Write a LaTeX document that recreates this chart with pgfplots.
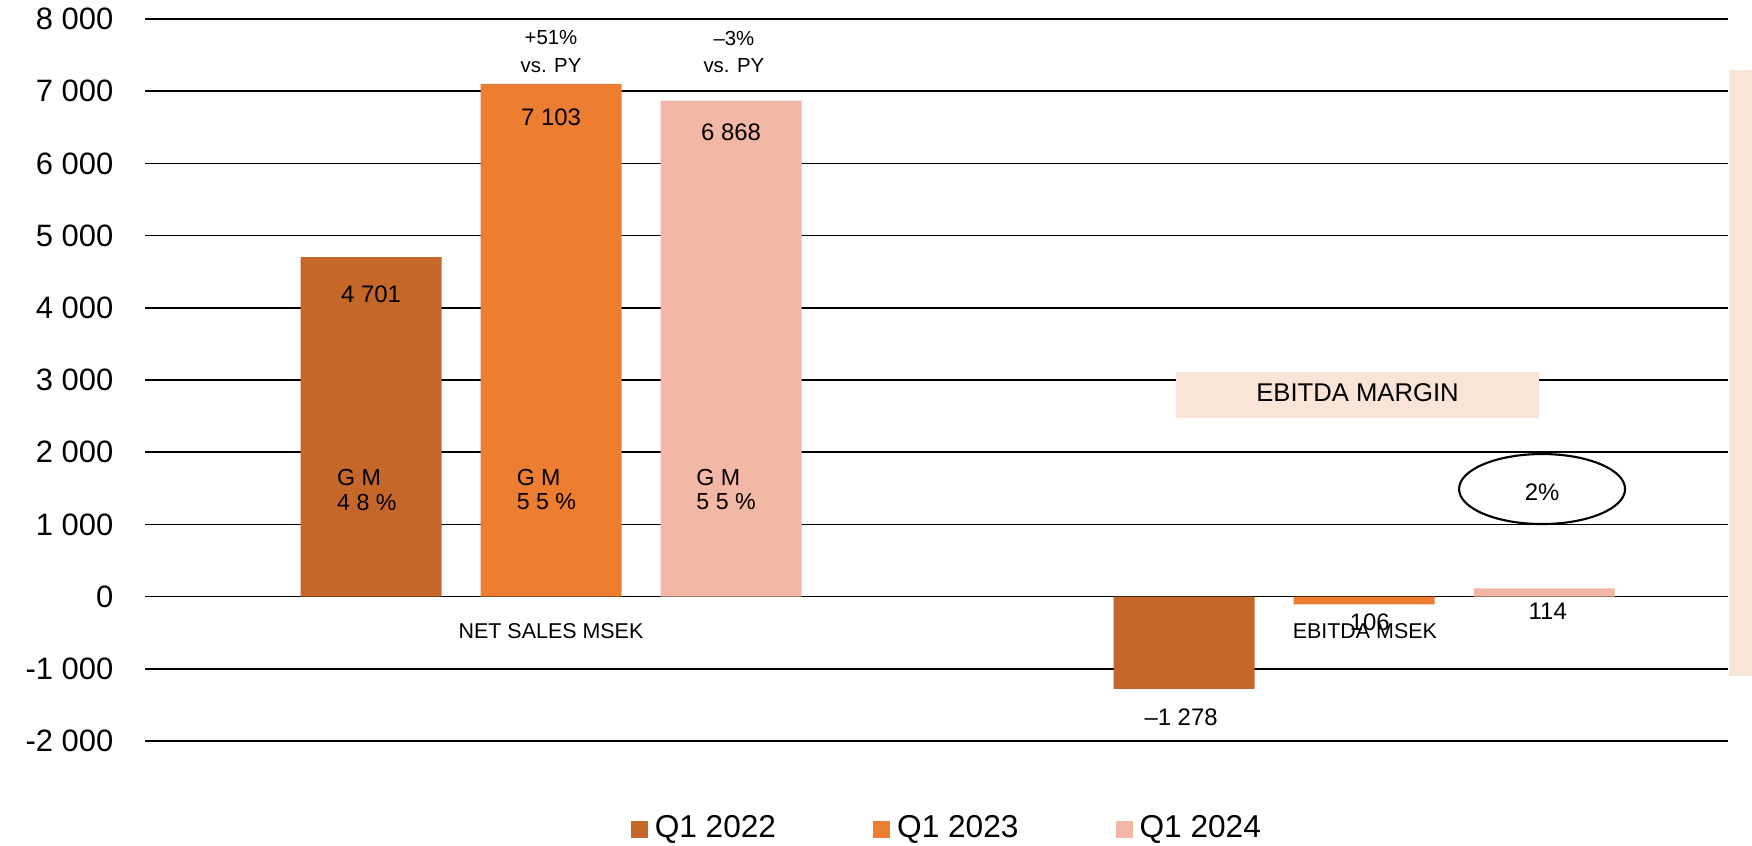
\documentclass[border=0pt]{standalone}
\usepackage{fontspec}
\setmainfont{Liberation Sans}
\usepackage{pgfplots}
\pgfplotsset{compat=1.18}
\definecolor{cA}{RGB}{196,103,40}
\definecolor{cB}{RGB}{237,125,49}
\definecolor{cC}{RGB}{243,183,165}
\definecolor{cBox}{RGB}{250,228,214}
\newcommand{\fs}[1]{\fontsize{#1pt}{#1pt}\selectfont}
\begin{document}
\begin{tikzpicture}
\useasboundingbox (-1.45cm,-1.04cm) rectangle (16.07cm,7.41cm);
\begin{axis}[
  at={(0,0)}, anchor=south west, scale only axis,
  width=15.83cm, height=7.22cm,
  xmin=-0.4994, xmax=1.4477, ymin=-2000, ymax=8000,
  axis line style={draw=none}, major tick length=0pt,
  xtick=\empty,
  ytick={-2000,-1000,0,1000,2000,3000,4000,5000,6000,7000,8000},
  yticklabels={-2 000,-1 000,0,1 000,2 000,3 000,4 000,5 000,6 000,7 000,8 000},
  yticklabel style={font=\fs{8.8}, anchor=east, inner sep=0pt, xshift=-0.31cm},
  ymajorgrids, grid style={black, line width=0.5pt},
  ybar, bar width=0.1734,
  clip=false,
  legend columns=3,
  legend style={draw=none, fill=none, at={(axis description cs:0.3064,-0.122)}, anchor=west,
    font=\fs{9}, inner sep=0pt, /tikz/every even column/.append style={column sep=0.9cm}},
]
\addplot[fill=cA, draw=none, bar shift=-0.2214,
  legend image code/.code={\fill[cA] (0cm,-0.085cm) rectangle (0.17cm,0.085cm);}]
  coordinates {(0,4701) (1,-1278)};
\addplot[fill=cB, draw=none, bar shift=0,
  legend image code/.code={\fill[cB] (0cm,-0.085cm) rectangle (0.17cm,0.085cm);}]
  coordinates {(0,7103) (1,-106)};
\addplot[fill=cC, draw=none, bar shift=0.2214,
  legend image code/.code={\fill[cC] (0cm,-0.085cm) rectangle (0.17cm,0.085cm);}]
  coordinates {(0,6868) (1,114)};
\legend{Q1 2022, Q1 2023, Q1 2024}

% growth annotations
\node[font=\fs{5.8}, inner sep=0pt] at (axis cs:0,7737) {+51\%};
\node[font=\fs{5.8}, inner sep=0pt] at (axis cs:0,7349) {vs. PY};
\node[font=\fs{5.8}, inner sep=0pt] at (axis cs:0.225,7737) {–3\%};
\node[font=\fs{5.8}, inner sep=0pt] at (axis cs:0.225,7349) {vs. PY};
% value labels
\node[font=\fs{6.8}, inner sep=0pt] at (axis cs:-0.2214,4191) {4 701};
\node[font=\fs{6.8}, inner sep=0pt] at (axis cs:0,6643) {7 103};
\node[font=\fs{6.8}, inner sep=0pt] at (axis cs:0.2214,6435) {6 868};
\node[font=\fs{6.8}, inner sep=0pt] at (axis cs:0.775,-1668) {–1 278};
\node[font=\fs{6.8}, inner sep=0pt] at (axis cs:1.007,-352) {106};
\node[font=\fs{6.8}, inner sep=0pt] at (axis cs:1.226,-199) {114};
% GM labels
\node[font=\fs{6.6}, inner sep=0pt, anchor=west] at (axis cs:-0.2638,1643) {G M};
\node[font=\fs{6.6}, inner sep=0pt, anchor=west] at (axis cs:-0.2638,1310) {4 8 \%};
\node[font=\fs{6.6}, inner sep=0pt, anchor=west] at (axis cs:-0.043,1643) {G M};
\node[font=\fs{6.6}, inner sep=0pt, anchor=west] at (axis cs:-0.043,1310) {5 5 \%};
\node[font=\fs{6.6}, inner sep=0pt, anchor=west] at (axis cs:0.178,1643) {G M};
\node[font=\fs{6.6}, inner sep=0pt, anchor=west] at (axis cs:0.178,1310) {5 5 \%};
% category labels
\node[font=\fs{6.1}, inner sep=0pt] at (axis cs:0,-476) {NET SALES MSEK};
\node[font=\fs{6.1}, inner sep=0pt] at (axis cs:1.001,-476) {EBITDA MSEK};
% EBITDA margin box
\fill[cBox] (axis cs:0.769,2474) rectangle (axis cs:1.215,3111);
\node[font=\fs{7.3}, inner sep=0pt] at (axis cs:0.992,2820) {EBITDA MARGIN};
\draw[line width=0.6pt] (axis cs:1.219,1490) ellipse [x radius=0.83cm, y radius=0.35cm];
\node[font=\fs{6.8}, inner sep=0pt] at (axis cs:1.219,1449) {2\%};
% right strip
\fill[cBox] (axis cs:1.449,7294) rectangle (axis cs:1.52,-1100);
\end{axis}
\end{tikzpicture}
\end{document}
